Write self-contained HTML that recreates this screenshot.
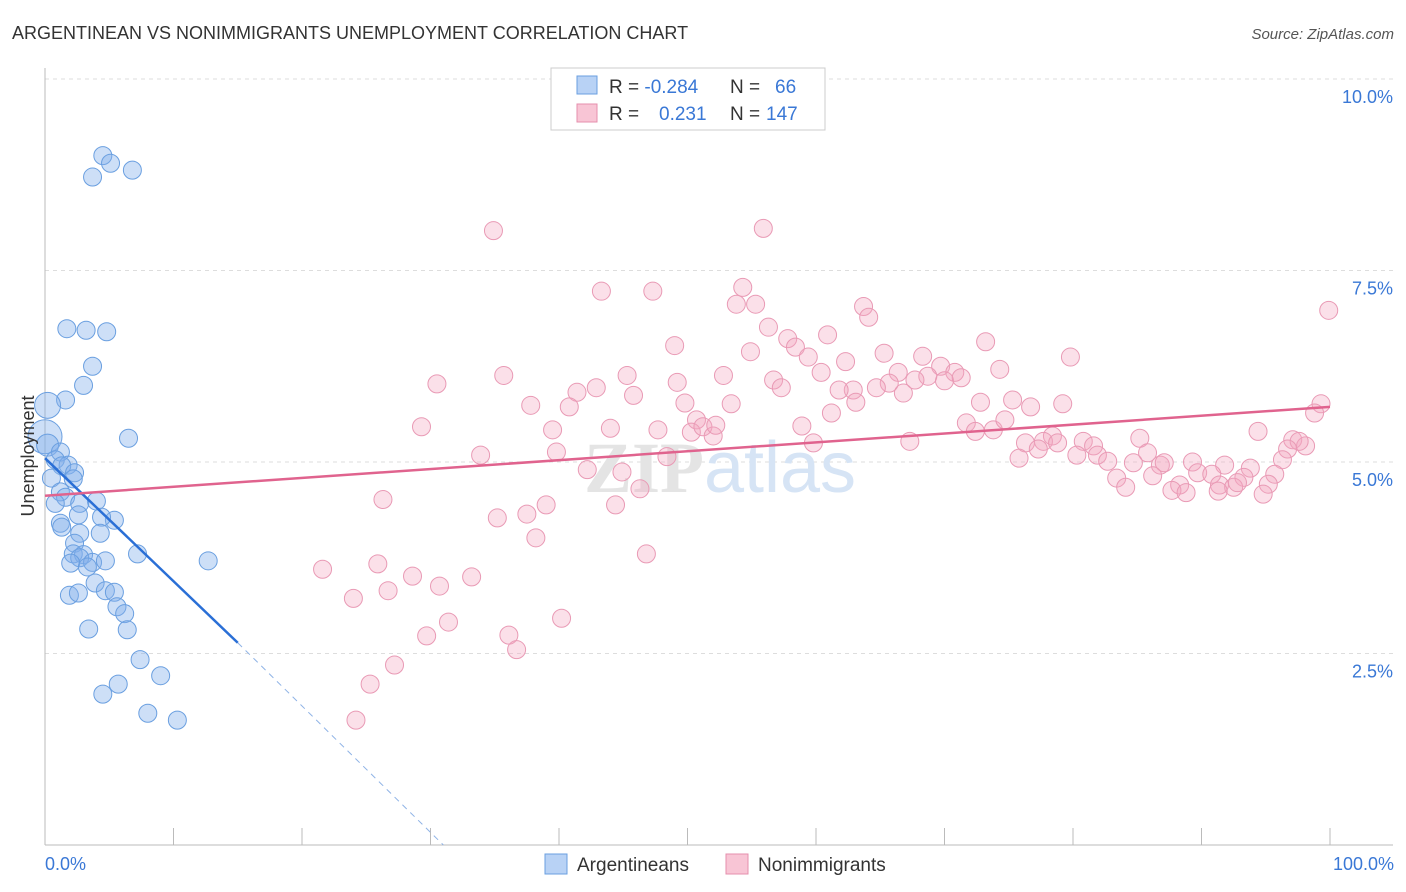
<!DOCTYPE html>
<html><head><meta charset="utf-8"><style>
body{margin:0;background:#fff;font-family:"Liberation Sans",sans-serif;}
svg{display:block}
</style></head><body>
<svg id="chart" width="1406" height="892" xmlns="http://www.w3.org/2000/svg">
<text x="12" y="39" font-size="18" fill="#333">ARGENTINEAN VS NONIMMIGRANTS UNEMPLOYMENT CORRELATION CHART</text>
<text x="1394" y="39" font-size="15" fill="#555" text-anchor="end" font-style="italic">Source: ZipAtlas.com</text>
<g id="grid"></g>
<text x="720" y="492" font-size="72" fill="#e4e4e4" text-anchor="middle" font-family="Liberation Serif,serif" font-weight="bold">ZIP<tspan fill="#d6e4f5" font-family="Liberation Sans,sans-serif" font-weight="normal">atlas</tspan></text>
<g id="pts"></g>
<g id="trends"></g>
<text transform="translate(34,456) rotate(-90)" font-size="18" fill="#333" text-anchor="middle">Unemployment</text>
<text x="45" y="870" font-size="18" fill="#3a78d6">0.0%</text>
<text x="1394" y="870" font-size="18" fill="#3a78d6" text-anchor="end">100.0%</text>
<g>
<rect x="551" y="68" width="274" height="62" fill="#fff" stroke="#ccc"/>
<rect x="577" y="76" width="20" height="18" fill="#b8d2f5" stroke="#6a9fe0"/>
<rect x="577" y="104" width="20" height="18" fill="#f8c5d5" stroke="#e68fad"/>
<text x="609" y="93" font-size="19" fill="#333">R = <tspan fill="#3a78d6">-0.284</tspan><tspan x="730">N = </tspan><tspan x="775" fill="#3a78d6">66</tspan></text>
<text x="609" y="120" font-size="19" fill="#333">R = <tspan x="659" fill="#3a78d6">0.231</tspan><tspan x="730">N = </tspan><tspan x="766" fill="#3a78d6">147</tspan></text>
</g>
<g>
<rect x="545" y="854" width="22" height="20" fill="#b8d2f5" stroke="#6a9fe0"/>
<text x="577" y="871" font-size="19" fill="#333">Argentineans</text>
<rect x="726" y="854" width="22" height="20" fill="#f8c5d5" stroke="#e68fad"/>
<text x="758" y="871" font-size="19" fill="#333">Nonimmigrants</text>
</g>
</svg>
<script>
const yTicks=[2.5,5.0,7.5,10.0];
const xTickVals=[0,10,20,30,40,50,60,70,80,90,100];
const blueX=[4.5,5.1,3.7,6.8,1.7,3.2,4.8,3.7,3.0,1.6,0.2,6.5,0,0.2,1.2,0.8,1.8,1.3,2.3,0.5,2.2,1.2,1.6,4.0,0.8,2.7,2.6,5.4,4.4,1.2,1.3,2.7,4.3,2.3,2.2,3.0,2.7,7.2,2.0,3.7,4.7,3.3,12.7,3.9,1.9,2.6,4.7,5.4,5.6,6.2,6.4,3.4,7.4,5.7,4.5,9.0,8.0,10.3];
const blueY=[9.0,8.9,8.72,8.81,6.74,6.72,6.70,6.25,6.0,5.81,5.74,5.31,5.33,5.22,5.13,5.03,4.96,4.95,4.86,4.79,4.78,4.61,4.54,4.49,4.46,4.46,4.31,4.24,4.28,4.2,4.15,4.07,4.07,3.94,3.80,3.79,3.75,3.80,3.68,3.69,3.71,3.63,3.71,3.42,3.26,3.29,3.32,3.30,3.11,3.02,2.81,2.82,2.42,2.10,1.97,2.21,1.72,1.63];
const blueR=[9,9,9,9,9,9,9,9,9,9,13,9,17,11,9,9,9,9,9,9,9,9,9,9,9,9,9,9,9,9,9,9,9,9,9,9,9,9,9,9,9,9,9,9,9,9,9,9,9,9,9,9,9,9,9,9,9,9];
const pinkX=[34.9,55.9,43.3,47.3,54.3,53.8,55.3,63.7,64.1,56.3,60.9,99.9,49.0,57.8,58.4,54.9,59.4,65.3,68.3,73.2,79.8,62.3,66.4,60.4,69.7,68.7,70.8,74.3,35.7,45.3,52.8,30.5,41.4,42.9,49.2,56.7,57.3,65.7,67.7,70.0,71.3,62.9,64.7,66.8,61.8,45.8,37.8,40.8,49.8,53.4,63.1,75.3,76.7,72.8,79.2,99.3,98.8,61.2,50.7,29.3,39.5,44.0,47.7,50.3,51.2,52.0,52.2,58.9,71.7,72.4,73.8,74.7,78.4,80.8,81.6,85.2,94.4,97.1,98.1,97.6,96.7,39.8,33.9,48.4,59.8,67.3,76.3,77.7,77.3,78.8,80.3,81.9,82.7,85.8,75.8,84.7,86.8,87.1,89.3,91.8,93.8,96.3,95.7,89.7,90.8,93.3,83.4,86.2,88.3,91.4,92.5,92.8,95.2,84.1,87.7,88.8,91.3,94.8,42.2,44.9,46.3,26.3,44.4,39.0,37.5,35.2,38.2,46.8,21.6,25.9,28.6,33.2,30.7,26.7,24.0,40.2,31.4,29.7,36.1,36.7,27.2,25.3,24.2];
const pinkY=[8.02,8.05,7.23,7.23,7.28,7.06,7.06,7.03,6.89,6.76,6.66,6.98,6.52,6.61,6.50,6.44,6.37,6.42,6.38,6.57,6.37,6.31,6.17,6.17,6.25,6.12,6.17,6.21,6.13,6.13,6.13,6.02,5.91,5.97,6.04,6.07,5.97,6.03,6.07,6.06,6.10,5.94,5.97,5.90,5.94,5.87,5.74,5.72,5.77,5.76,5.78,5.81,5.72,5.78,5.76,5.76,5.64,5.64,5.55,5.46,5.42,5.44,5.42,5.39,5.46,5.34,5.48,5.47,5.51,5.40,5.42,5.55,5.34,5.27,5.21,5.31,5.40,5.29,5.21,5.27,5.17,5.13,5.09,5.07,5.25,5.27,5.25,5.27,5.17,5.25,5.09,5.09,5.01,5.12,5.05,4.99,4.96,4.99,5.00,4.96,4.92,5.03,4.84,4.86,4.84,4.80,4.79,4.82,4.70,4.70,4.67,4.73,4.71,4.67,4.63,4.60,4.62,4.58,4.90,4.87,4.65,4.51,4.44,4.44,4.32,4.27,4.01,3.80,3.60,3.67,3.51,3.50,3.38,3.32,3.22,2.96,2.91,2.73,2.74,2.55,2.35,2.10,1.63];
const blueTrend=[[0,5.05],[15,2.64]];
const blueDash=[[15,2.64],[31,0]];
const pinkTrend=[[0,4.56],[100,5.72]];
const NS="http://www.w3.org/2000/svg";
const X=v=>45+v*12.85, Y=v=>845-v*76.6;
function mk(tag,attrs,parent){const e=document.createElementNS(NS,tag);for(const k in attrs)e.setAttribute(k,attrs[k]);parent.appendChild(e);return e;}
const grid=document.getElementById('grid');
for(const t of yTicks){
 const l=mk('line',{x1:45,x2:1393,y1:Y(t),y2:Y(t),stroke:'#ddd','stroke-dasharray':'4,4'},grid);
 
 
 const tx=mk('text',{x:1393,y:Y(t)+24,'font-size':18,fill:'#3a78d6','text-anchor':'end'},grid);
 tx.textContent=t.toFixed(1)+'%';
 
 
}
const ax=mk('line',{x1:45,x2:45,y1:68,y2:845,stroke:'#bbb'},grid);


const bx=mk('line',{x1:45,x2:1393,y1:845,y2:845,stroke:'#bbb'},grid);


for(const t of xTickVals){
 const l=mk('line',{x1:X(t),x2:X(t),y1:828,y2:845,stroke:'#bbb'},grid);
 
 
}
const pts=document.getElementById('pts');
for(let i=0;i<pinkX.length;i++){
 const c=mk('circle',{cx:X(pinkX[i]),cy:Y(pinkY[i]),r:9,fill:'rgba(244,165,192,0.35)',stroke:'#e99ab5','stroke-width':1},pts);
 
 
}
for(let i=0;i<blueX.length;i++){
 const c=mk('circle',{cx:X(blueX[i]),cy:Y(blueY[i]),r:blueR[i],fill:'rgba(130,175,235,0.4)',stroke:'#6a9fe0','stroke-width':1},pts);
 
 
}
const tr=document.getElementById('trends');
const l1=mk('line',{x1:X(blueTrend[0][0]),y1:Y(blueTrend[0][1]),x2:X(blueTrend[1][0]),y2:Y(blueTrend[1][1]),stroke:'#2a6fd6','stroke-width':2.5},tr);


const l2=mk('line',{x1:X(blueDash[0][0]),y1:Y(blueDash[0][1]),x2:X(blueDash[1][0]),y2:Y(blueDash[1][1]),stroke:'#8fb3e6','stroke-width':1,'stroke-dasharray':'6,5'},tr);


const l3=mk('line',{x1:X(pinkTrend[0][0]),y1:Y(pinkTrend[0][1]),x2:X(pinkTrend[1][0]),y2:Y(pinkTrend[1][1]),stroke:'#e0638e','stroke-width':2.5},tr);


</script>
</body></html>
